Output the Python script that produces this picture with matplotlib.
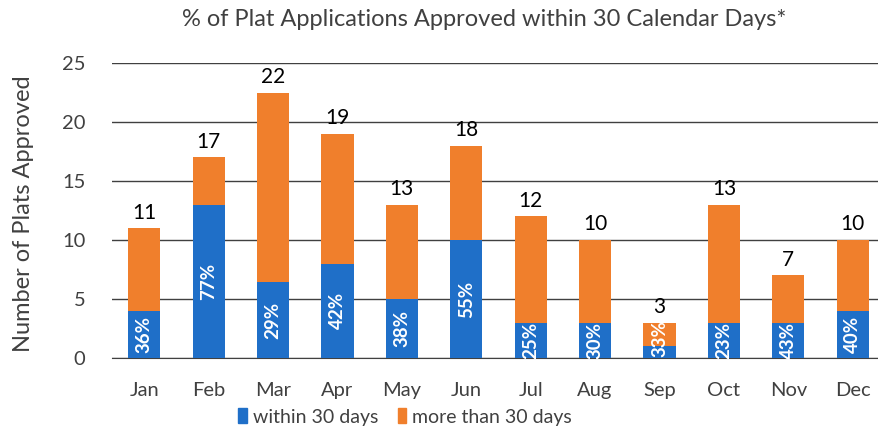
import numpy as np
import matplotlib
matplotlib.use('Agg')
import matplotlib.pyplot as plt
from matplotlib.patches import Patch, Rectangle

plt.rcParams['font.family'] = ['Lato', 'DejaVu Sans']

months = ['Jan', 'Feb', 'Mar', 'Apr', 'May', 'Jun', 'Jul', 'Aug', 'Sep', 'Oct', 'Nov', 'Dec']
within = [4, 13, 6.4, 8, 5, 10, 3, 3, 1, 3, 3, 4]
more = [7, 4, 16.1, 11, 8, 8, 9, 7, 2, 10, 4, 6]
total_labels = ['11', '17', '22', '19', '13', '18', '12', '10', '3', '13', '7', '10']
pct_labels = ['36%', '77%', '29%', '42%', '38%', '55%', '25%', '30%', '33%', '23%', '43%', '40%']

blue = '#1f6fc8'
orange = '#f07f2c'
grey = '#404040'

fig = plt.figure(figsize=(8.79, 4.37), dpi=100)
ax = fig.add_axes([112/879, 1-358/437, 773/879, 295/437])

x = np.arange(len(months))
b1 = ax.bar(x, within, width=0.5, color=blue, zorder=3)
b2 = ax.bar(x, more, width=0.5, bottom=within, color=orange, zorder=3)

#percentage labels in the blue part, clipped to the whole bar (Sep label gets cut)
for rect, w, m, lab in zip(b1, within, more, pct_labels):
    xc = rect.get_x()+rect.get_width()/2
    if w >= 2.5:
        t = ax.text(xc, w/2, lab, rotation=90, color='white', ha='center', va='center',
                    fontsize=13.5, fontweight='bold', zorder=4)
    else:
        t = ax.text(xc, 0.05, lab, rotation=90, color='white', ha='center', va='bottom',
                    fontsize=13.5, fontweight='bold', zorder=4)
    clip = Rectangle((rect.get_x(), 0), rect.get_width(), w+m, transform=ax.transData)
    t.set_clip_path(clip)

#totals above the bars
for xi, w, m, lab in zip(x, within, more, total_labels):
    ax.annotate(lab, (xi, w+m), xytext=(0, 4), textcoords='offset points',
                ha='center', va='bottom', fontsize=15, color='black')

ax.set_ylim(0, 25)
ax.set_xlim(-0.5, len(months)-0.5)
ax.set_yticks([0, 5, 10, 15, 20, 25])
ax.set_xticks(x)
ax.set_xticklabels(months)
ax.tick_params(axis='both', length=0, labelsize=14.5, colors=grey)
ax.tick_params(axis='x', pad=17)
ax.tick_params(axis='y', pad=19)
ax.grid(axis='y', color=grey, linewidth=1, zorder=0)
for s in ['top', 'right', 'left']:
    ax.spines[s].set_visible(False)
ax.spines['bottom'].set_color(grey)
ax.set_ylabel('Number of Plats Approved', fontsize=17, color=grey)
ax.yaxis.set_label_coords((34-112)/773, 0.49)

fig.text(484/879, 1-19/437, '% of Plat Applications Approved within 30 Calendar Days*',
         ha='center', va='center', fontsize=17, color=grey)

handles = [Patch(color=blue), Patch(color=orange)]
fig.legend(handles, ['within 30 days', 'more than 30 days'], loc='center',
           bbox_to_anchor=(405/879, 1-417/437), ncol=2, frameon=False, fontsize=14,
           handlelength=0.45, handleheight=0.8, handletextpad=0.3, columnspacing=1.0,
           labelcolor=grey)

fig.savefig('out.png', dpi=100)
